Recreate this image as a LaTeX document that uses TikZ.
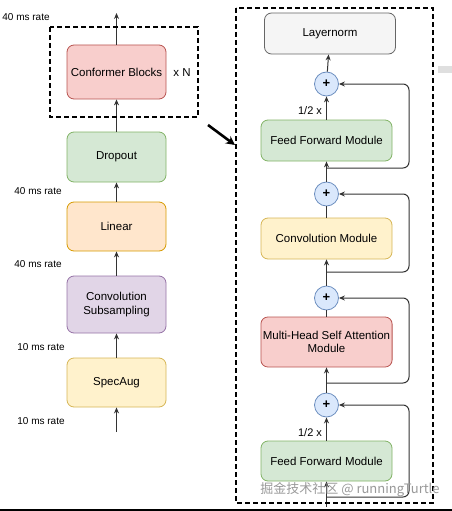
\documentclass[tikz,border=0pt]{standalone}
\usepackage{fontspec}
\setmainfont{Liberation Sans}
\newfontfamily\cjkfont{Noto Sans CJK SC}
\usetikzlibrary{arrows.meta}
\definecolor{redfill}{HTML}{F8CECC}\definecolor{redline}{HTML}{B85450}
\definecolor{greenfill}{HTML}{D5E8D4}\definecolor{greenline}{HTML}{82B366}
\definecolor{orangefill}{HTML}{FFE6CC}\definecolor{orangeline}{HTML}{D79B00}
\definecolor{purplefill}{HTML}{E1D5E7}\definecolor{purpleline}{HTML}{9673A6}
\definecolor{yellowfill}{HTML}{FFF2CC}\definecolor{yellowline}{HTML}{D6B656}
\definecolor{grayfill}{HTML}{F5F5F5}\definecolor{grayline}{HTML}{666666}
\definecolor{bluefill}{HTML}{DAE8FC}\definecolor{blueline}{HTML}{6C8EBF}

\begin{document}
\begin{tikzpicture}[x=1pt, y=-1pt,
        block/.style={draw, rounded corners=7pt, line width=0.8pt, align=center, inner sep=2pt,
            minimum width=99pt, font=\fontsize{11.5}{13.5}\selectfont},
        module/.style={block, minimum width=131pt, minimum height=41pt},
        plus/.style={circle, draw=blueline, fill=bluefill, line width=0.8pt, minimum size=24pt, inner sep=0pt,
            font=\bfseries\fontsize{13}{13}\selectfont},
        rate/.style={font=\fontsize{10}{12}\selectfont},
        flow/.style={draw=black!80, line width=1pt, -{Stealth[length=6pt,width=5pt]}},
        skip/.style={flow, rounded corners=6pt},
        group/.style={draw=black, line width=1.3pt, dash pattern=on 5pt off 3pt}]
        \useasboundingbox (0,0) rectangle (452,511);

        % encoder column
        \node [block, fill=redfill, draw=redline, minimum height=54pt] (conformer) at (116.5,72) {Conformer Blocks};
        \node [block, fill=greenfill, draw=greenline, minimum height=50pt] (dropout) at (116.5,157) {Dropout};
        \node [block, fill=orangefill, draw=orangeline, minimum height=49pt] (linear) at (116.5,226.5) {Linear};
        \node [block, fill=purplefill, draw=purpleline, minimum height=57pt] (subsampling) at (116.5,304.5) {Convolution\\Subsampling};
        \node [block, fill=yellowfill, draw=yellowline, minimum height=49pt] (specaug) at (116.5,382.5) {SpecAug};
        \coordinate (out) at (116.5,13);
        \coordinate (in) at (116.5,432);

        \node [rate] (r1) at (26,17) {40 ms rate};
        \node [rate] (r2) at (38,191) {40 ms rate};
        \node [rate] (r3) at (38,264) {40 ms rate};
        \node [rate] (r4) at (41,347) {10 ms rate};
        \node [rate] (r5) at (41,421) {10 ms rate};
        \node [font=\fontsize{11.5}{13.5}\selectfont] (times) at (182,73) {x N};

        \draw [flow] (conformer) -- (out);
        \draw [flow] (dropout) -- (conformer);
        \draw [flow] (linear) -- (dropout);
        \draw [flow] (subsampling) -- (linear);
        \draw [flow] (specaug) -- (subsampling);
        \draw [flow] (in) -- (specaug);
        \draw [group] (50,27) rectangle (198,117);

        \draw [line width=2.6pt, -{Stealth[length=9pt,width=9pt]}] (208,125) -- (235,145);

        % conformer block
        \node [module, fill=grayfill, draw=grayline] (layernorm) at (330,33.5) {Layernorm};
        \node [plus] (plus4) at (326.5,84) {+};
        \node [module, fill=greenfill, draw=greenline] (ffmtop) at (326.5,140.5) {Feed Forward Module};
        \node [plus] (plus3) at (326.5,194) {+};
        \node [module, fill=yellowfill, draw=yellowline] (conv) at (326.5,238.5) {Convolution Module};
        \node [plus] (plus2) at (326.5,298) {+};
        \node [module, fill=redfill, draw=redline, minimum height=50pt] (mhsa) at (326.5,342) {Multi-Head Self Attention\\Module};
        \node [plus] (plus1) at (326.5,405) {+};
        \node [module, fill=greenfill, draw=greenline, minimum height=40pt] (ffmbot) at (326.5,461) {Feed Forward Module};
        \node [rate, font=\fontsize{11}{13}\selectfont] (half1) at (310,111) {1/2 x};
        \node [rate, font=\fontsize{11}{13}\selectfont] (half2) at (310,433) {1/2 x};

        \coordinate (x) at (326.5,507);
        \coordinate (s1) at (326.5,497);
        \coordinate (s2) at (326.5,383);
        \coordinate (s3) at (326.5,272);
        \coordinate (s4) at (326.5,168);

        \draw [flow] (x) -- (ffmbot);
        \draw [flow] (ffmbot) -- (plus1);
        \draw [flow] (plus1) -- (mhsa);
        \draw [draw=black!80, line width=1pt] (mhsa) -- (plus2);
        \draw [flow] (plus2) -- (conv);
        \draw [draw=black!80, line width=1pt] (conv) -- (plus3);
        \draw [flow] (plus3) -- (ffmtop);
        \draw [flow] (ffmtop) -- (plus4);
        \draw [flow] (plus4) -- (layernorm);

        \draw [skip] (s1) -- (409,497) -- (409,405) -- (plus1);
        \draw [skip] (s2) -- (409,383) -- (409,298) -- (plus2);
        \draw [skip] (s3) -- (409,272) -- (409,194) -- (plus3);
        \draw [skip] (s4) -- (409,168) -- (409,84) -- (plus4);
        \draw [group] (236,8) rectangle (433,503);

        \node [font=\cjkfont\fontsize{13}{13}\selectfont, text=gray!80] (mark) at (350,490) {掘金技术社区 @ runningTurtle};
        \fill [gray!25] (438,66) rectangle (452,73);
        \draw [line width=2pt] (0,510) -- (452,510);
\end{tikzpicture}
\end{document}
